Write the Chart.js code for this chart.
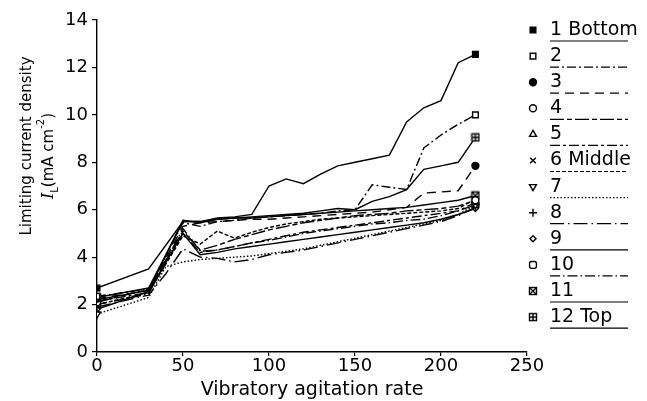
<!DOCTYPE html>
<html>
<head>
<meta charset="utf-8">
<script src="https://cdn.jsdelivr.net/npm/chart.js@4.4.1/dist/chart.umd.min.js"></script>
<style>
  html, body { margin: 0; padding: 0; background: #fff; }
</style>
</head>
<body>
<canvas id="rateChart" width="647" height="401"></canvas>
<script>
// vibratory agitation rate (x) and limiting current density per electrode position
const rates = [0, 30, 40, 50, 60, 70, 80, 90, 100, 110, 120, 130, 140, 150, 160, 170, 180, 190, 200, 210, 220];

const pos1 = [2.7, 3.5, null, 5.5, 5.5, 5.65, 5.7, 5.8, 7.0, 7.3, 7.1, 7.5, 7.85, 8.0, 8.15, 8.3, 9.7, 10.3, 10.6, 12.2, 12.55];
const pos2 = [2.35, 2.65, null, 5.45, 5.3, 5.5, 5.55, 5.65, 5.7, 5.75, 5.8, 5.85, 5.95, 6.0, 7.05, 6.95, 6.85, 8.6, 9.15, 9.6, 10.0];
const pos3 = [2.25, 2.6, null, 5.3, 5.45, 5.5, 5.55, 5.6, 5.6, 5.65, 5.7, 5.75, 5.8, 5.85, 5.9, 6.0, 6.1, 6.7, 6.75, 6.8, 7.85];
const pos4 = [2.1, 2.65, null, 5.1, 4.3, 4.5, 4.75, 4.95, 5.15, 5.3, 5.45, 5.55, 5.65, 5.75, 5.8, 5.85, 5.95, 6.0, 6.05, 6.15, 6.4];
const pos5 = [2.15, 2.5, null, 5.0, 4.2, 4.3, 4.45, 4.6, 4.75, 4.9, 5.05, 5.15, 5.25, 5.35, 5.45, 5.55, 5.65, 5.75, 5.85, 5.95, 6.3];
const pos6 = [2.0, 2.5, null, 4.9, 4.55, 5.1, 4.8, 5.05, 5.25, 5.4, 5.5, 5.6, 5.65, 5.7, 5.75, 5.8, 5.85, 5.9, 5.95, 6.05, 6.45];
const pos7 = [1.6, 2.3, 3.6, 3.8, 3.9, 3.95, 4.0, 4.05, 4.15, 4.25, 4.35, 4.5, 4.65, 4.8, 4.95, 5.1, 5.25, 5.4, 5.55, 5.8, 6.2];
const pos8 = [1.9, 2.4, 3.3, 4.35, 4.0, 3.95, 3.8, 3.9, 4.1, 4.2, 4.3, 4.45, 4.6, 4.75, 4.9, 5.05, 5.2, 5.35, 5.5, 5.75, 6.1];
const pos9 = [1.8, 2.55, null, 5.0, 4.1, 4.2, 4.35, 4.45, 4.55, 4.65, 4.75, 4.85, 4.95, 5.05, 5.15, 5.25, 5.35, 5.45, 5.6, 5.8, 6.05];
const pos10 = [2.0, 2.45, null, 5.2, 4.25, 4.3, 4.45, 4.6, 4.7, 4.85, 5.0, 5.1, 5.2, 5.3, 5.4, 5.45, 5.55, 5.6, 5.75, 5.95, 6.2];
const pos11 = [2.3, 2.7, null, 5.5, 5.5, 5.6, 5.65, 5.65, 5.7, 5.75, 5.8, 5.85, 5.9, 5.95, 6.0, 6.05, 6.1, 6.2, 6.3, 6.4, 6.6];
const pos12 = [2.2, 2.6, null, 5.55, 5.45, 5.6, 5.65, 5.7, 5.75, 5.8, 5.85, 5.95, 6.05, 6.0, 6.35, 6.55, 6.85, 7.7, 7.85, 8.0, 9.05];

const labels = ["1 Bottom", "2", "3", "4", "5", "6 Middle", "7", "8", "9", "10", "11", "12 Top"];
const xTicks = [0, 50, 100, 150, 200, 250];
const yTicks = [0, 2, 4, 6, 8, 10, 12, 14];

// small boxed marks for 11 and 12
function boxMark(kind) {
  const c = document.createElement("canvas");
  c.width = 10; c.height = 10;
  const g = c.getContext("2d");
  g.strokeStyle = "#000";
  g.lineWidth = 1.4;
  g.fillStyle = "#fff";
  g.fillRect(1, 1, 8, 8);
  g.strokeRect(1.5, 1.5, 7, 7);
  g.beginPath();
  if (kind === "x") {
    g.moveTo(1.5, 1.5); g.lineTo(8.5, 8.5);
    g.moveTo(8.5, 1.5); g.lineTo(1.5, 8.5);
  } else {
    g.moveTo(5, 1.5); g.lineTo(5, 8.5);
    g.moveTo(1.5, 5); g.lineTo(8.5, 5);
  }
  g.stroke();
  return c;
}

const series = [pos1, pos2, pos3, pos4, pos5, pos6, pos7, pos8, pos9, pos10, pos11, pos12];
const styles = [
  { pointStyle: "rect", fill: "#000", dash: [] },
  { pointStyle: "rect", fill: "#fff", dash: [9, 3, 2, 3] },
  { pointStyle: "circle", fill: "#000", dash: [9, 6], radius: 3.5 },
  { pointStyle: "circle", fill: "#fff", dash: [14, 3, 5, 3], radius: 3.5 },
  { pointStyle: "triangle", fill: "#fff", dash: [10, 3, 3, 3] },
  { pointStyle: "crossRot", fill: "#fff", dash: [4, 2] },
  { pointStyle: "triangle", fill: "#fff", dash: [1.5, 2], rotation: 180 },
  { pointStyle: "cross", fill: "#fff", dash: [14, 4, 1.5, 4] },
  { pointStyle: "rectRot", fill: "#fff", dash: [], radius: 3 },
  { pointStyle: "rectRounded", fill: "#fff", dash: [10, 3, 1.5, 3] },
  { pointStyle: boxMark("x"), fill: "#fff", dash: [] },
  { pointStyle: boxMark("+"), fill: "#fff", dash: [] },
];

const lastIdx = rates.length - 1;

const datasets = series.map((vals, i) => ({
  label: labels[i],
  data: vals.map((v, k) => ({ x: rates[k], y: v })),
  borderColor: "#000",
  borderWidth: 1.4,
  borderDash: styles[i].dash,
  backgroundColor: styles[i].fill,
  pointStyle: styles[i].pointStyle,
  pointRotation: styles[i].rotation || 0,
  pointBorderWidth: 1.4,
  pointRadius: (ctx) => (ctx.dataIndex === 0 || ctx.dataIndex === lastIdx) ? (styles[i].radius || 4) : 0,
  spanGaps: true,
  tension: 0,
}));

// y title with subscript / superscript, and the underlined legend on the right
const decorations = {
  id: "decorations",
  afterDraw(chart) {
    const ctx = chart.ctx;
    ctx.save();
    ctx.fillStyle = "#000";
    ctx.textBaseline = "middle";

    ctx.save();
    ctx.translate(27, 146);
    ctx.rotate(-Math.PI / 2);
    ctx.textAlign = "center";
    ctx.font = "15px 'DejaVu Sans'";
    ctx.fillText("Limiting current density", 0, 0);
    ctx.restore();

    ctx.save();
    ctx.translate(49, 156);
    ctx.rotate(-Math.PI / 2);
    ctx.textAlign = "left";
    const parts = [
      { t: "I", f: "italic 16px 'DejaVu Serif'", dy: 0 },
      { t: "L", f: "10px 'DejaVu Sans'", dy: 6 },
      { t: "(mA cm", f: "15px 'DejaVu Sans'", dy: 0 },
      { t: "-2", f: "10px 'DejaVu Sans'", dy: -8 },
      { t: ")", f: "15px 'DejaVu Sans'", dy: 0 },
    ];
    let total = 0;
    parts.forEach(p => { ctx.font = p.f; p.w = ctx.measureText(p.t).width; total += p.w; });
    let px = -total / 2;
    parts.forEach(p => { ctx.font = p.f; ctx.fillText(p.t, px, p.dy); px += p.w; });
    ctx.restore();

    // legend
    ctx.font = "19px 'DejaVu Sans'";
    ctx.textAlign = "left";
    chart.data.datasets.forEach((ds, i) => {
      const y = 30 + 26.1 * i;
      ctx.strokeStyle = "#000";
      ctx.fillStyle = ds.backgroundColor;
      ctx.lineWidth = 1.4;
      ctx.setLineDash([]);
      Chart.helpers.drawPoint(ctx, {
        pointStyle: ds.pointStyle,
        rotation: ds.pointRotation,
        radius: styles[i].radius || 4,
        borderWidth: 1.4,
      }, 533, y);
      ctx.fillStyle = "#000";
      ctx.fillText(ds.label, 550, y);
      ctx.beginPath();
      ctx.lineWidth = 1.2;
      ctx.setLineDash(ds.borderDash);
      ctx.moveTo(550, y + 11);
      ctx.lineTo(628, y + 11);
      ctx.stroke();
    });
    ctx.restore();
  },
};

Chart.defaults.font.family = "'DejaVu Sans'";
Chart.defaults.color = "#000";

new Chart(document.getElementById("rateChart"), {
  type: "line",
  data: { datasets: datasets },
  options: {
    responsive: false,
    animation: false,
    layout: { padding: { top: 20, right: 120, left: 0, bottom: 0 } },
    plugins: {
      legend: { display: false },
      tooltip: { enabled: false },
    },
    scales: {
      x: {
        type: "linear",
        min: 0,
        max: 250,
        afterBuildTicks: (s) => { s.ticks = xTicks.map(v => ({ value: v })); },
        afterFit: (s) => { s.height = 49; },
        ticks: { font: { size: 18 }, padding: 0, maxRotation: 0 },
        grid: { drawOnChartArea: false, tickLength: 4, color: "#000", lineWidth: 1.2 },
        border: { color: "#000", width: 1.4 },
        title: {
          display: true,
          text: "Vibratory agitation rate",
          font: { size: 19 },
          padding: { top: 0, bottom: 0 },
        },
      },
      y: {
        min: 0,
        max: 14,
        afterBuildTicks: (s) => { s.ticks = yTicks.map(v => ({ value: v })); },
        afterFit: (s) => { s.width = 97; },
        ticks: { font: { size: 18 }, padding: 4 },
        grid: { drawOnChartArea: false, tickLength: 5, color: "#000", lineWidth: 1.2 },
        border: { color: "#000", width: 1.4 },
      },
    },
  },
  plugins: [decorations],
});
</script>
</body>
</html>
